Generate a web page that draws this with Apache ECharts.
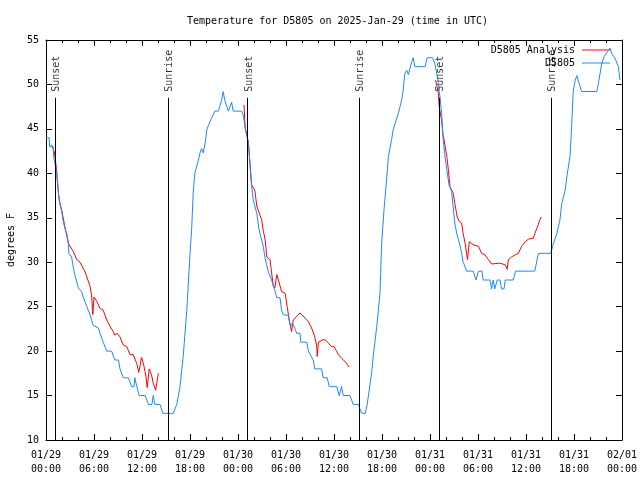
<!DOCTYPE html>
<html>
<head>
<meta charset="utf-8">
<script src="https://cdn.jsdelivr.net/npm/echarts@6/dist/echarts.min.js"></script>
<style>html,body{margin:0;padding:0;background:#fff}#c{width:640px;height:480px}</style>
</head>
<body>
<div id="c"></div>
<script>
// ---- Data (hours since 2025-01-29 00:00 UTC) ----
const xTickLabels = ['01/29\n00:00','01/29\n06:00','01/29\n12:00','01/29\n18:00','01/30\n00:00','01/30\n06:00','01/30\n12:00','01/30\n18:00','01/31\n00:00','01/31\n06:00','01/31\n12:00','01/31\n18:00','02/01\n00:00'];

const obsHours = [0,0.4,0.45,0.9,0.95,1.35,1.55,1.75,1.95,2.15,2.4,2.6,2.8,2.85,3.2,3.4,3.6,4.05,4.45,4.65,5.1,5.5,5.9,6.55,6.75,7.15,7.6,8.2,8.6,9.05,9.25,9.65,10.3,10.7,11.0,11.1,11.35,11.65,12.4,12.8,13.25,13.4,13.6,14.25,14.6,15.9,16.35,16.75,17.15,17.6,18.0,18.2,18.4,18.6,19.05,19.25,19.45,19.65,19.9,20.1,20.3,20.7,21.1,21.55,21.95,22.15,22.35,22.8,23.2,23.4,24.45,24.65,24.9,25.15,25.3,25.5,25.7,25.9,26.35,26.65,26.75,27.15,27.4,27.8,28.2,28.65,28.85,29.25,29.45,29.65,30.3,30.5,30.9,31.35,31.75,31.85,32.6,32.8,33.4,33.6,34.45,34.65,35.15,35.4,36.35,36.65,36.95,37.15,38.0,38.4,39.05,39.45,39.9,40.15,40.4,40.7,40.9,41.35,41.75,41.95,42.25,42.6,42.8,43.2,43.4,43.6,44.05,44.45,44.65,44.85,45.1,45.3,45.7,45.9,46.1,47.4,47.65,48.3,48.6,48.85,49.05,49.15,49.25,49.45,49.65,49.9,50.1,50.4,50.7,50.9,51.1,51.35,51.75,51.95,52.15,52.6,53.4,53.75,54.05,54.5,54.65,55.5,55.7,55.9,56.1,56.4,56.75,56.95,57.25,57.4,58.4,58.7,61.1,61.55,63.1,63.35,63.6,63.85,64.25,64.45,64.65,64.9,65.1,65.5,65.7,65.9,66.1,66.35,66.65,66.95,68.85,69.05,69.45,69.75,70.2,70.5,70.7,71.15,71.55,71.75];
const obsTemps = [44,44,43,43,41.9,40,37.8,36.5,35.8,34.6,33.7,33.2,32.1,31,30.6,29.5,28.6,27.1,26.7,26.1,25,24.1,22.9,22.6,22,21,20,20,19,19,18,17,17,16,16,17,16,15,15,14,14,15,14,14,13,13,14,16,19.4,24.6,31,33.6,37.8,40,41.5,42.3,42.8,42.3,43.4,44.9,45.4,46.2,47,47,48.2,49.2,48.2,47,48,47,47,46.6,45.1,44.9,43.5,41,38.6,37,35.5,33.6,33.4,31.8,30.4,28.9,28,26.7,26,26,24.6,24.1,24,23,23,22,22,21,21,20,19,18,18,17,17,16,16,15,16,15,15,14,14,13,13,14,15.6,17.5,19.4,22.8,26.5,32,35.9,39.6,41.9,43.8,44.9,45,46.8,48.2,49.4,51.2,51.6,51.1,52.5,53,52,52,53,53,52.4,51.2,50.1,49.2,48.6,46.8,43.8,41.7,40.4,38.6,38,36.2,34.4,33.2,31.9,31,30,29,29,28,29,29,28,28,27,28,27,28,28,27,27,28,28,29,29,31,31,31.9,32.1,33.2,34.8,36.5,37.2,38.1,39.6,41.9,45.2,49.2,50.3,51,50.1,49.2,49.2,50.1,52.3,53.1,53.7,54.1,53.5,52.9,52,50.5];

const anaHours = [0.7,1.05,1.35,1.4,1.55,1.65,1.95,2.15,2.4,2.6,2.8,3.0,3.4,3.85,4.25,4.9,5.1,5.5,5.7,5.85,6.0,6.35,6.75,7.15,7.6,8.0,8.4,8.6,8.9,9.25,9.65,10.1,10.5,10.9,11.35,11.6,11.8,11.95,12.25,12.5,12.65,12.9,13.2,13.4,13.7,13.9,14.05,
  19,
  24.75,24.9,25.15,25.3,25.5,25.7,26.1,26.35,26.75,26.95,27.15,27.4,27.6,28.0,28.2,28.4,28.6,28.85,29.05,29.45,29.9,30.15,30.4,30.7,30.9,31.35,31.75,32.0,32.4,32.8,33.2,33.6,33.85,33.9,34.05,34.65,35.0,35.3,35.7,36.0,36.25,36.55,36.95,37.4,37.9,
  43,
  48.7,49.05,49.15,49.45,49.6,49.75,49.95,50.1,50.3,50.5,50.7,50.9,51.1,51.4,51.65,51.95,52.15,52.4,52.6,52.7,52.9,53.2,53.6,54.05,54.45,54.9,55.3,55.7,56.75,56.95,57.4,57.65,57.8,58.2,58.6,59.05,59.45,59.9,60.3,60.9,61.1,61.35,61.75,61.9];
const anaTemps = [43.2,42.4,40.2,39.4,37.8,37,35.9,35,33.8,33,32.1,31.9,31.2,30.3,30,28.9,28.8,27.3,26.3,24.1,26.1,25.6,24.8,24.6,23.5,22.8,22.2,21.8,22,21.6,20.7,20.5,19.6,19.6,18.6,17.6,17.5,19.3,18.3,17.1,15.9,18,17.3,16.4,15.6,15.6,17.5,
  null,
  47.7,45.1,44.9,43.5,41,38.7,38.1,36.3,35.3,34.8,33.6,32.5,30.6,30.3,28.8,27.4,27.1,28.6,28,26.7,26.5,25,23.5,22.2,23.5,23.9,24.3,24.3,23.7,23.3,22.6,21.6,20.5,19.4,21,21.3,21.2,20.9,20.5,20.5,20.1,19.6,19.2,18.8,18.2,
  null,
  50.5,49,47.5,46,44.5,43.8,43.7,41.9,40.4,38.5,38.1,37.8,36.6,35.1,34.6,34.4,33.2,32.1,30.8,30.3,32.3,32.1,31.9,31.8,31,30.8,30.3,29.8,29.9,30.1,29.7,29.2,30.3,30.6,30.8,31,31.8,32.3,32.6,32.7,33.2,33.8,34.8,35.1];

const sunNames = ['Sunset','Sunrise','Sunset','Sunrise','Sunset','Sunrise'];
const sunHours = [1.15,15.3,25.2,39.15,49.15,63.15];

// ---- Chart ----
const FONT = 'DejaVu Sans Mono';
const sunLineTop = 48.5;
const chart = echarts.init(document.getElementById('c'), null, {renderer: 'canvas'});
const obsData = obsHours.map((h, i) => [h, obsTemps[i]]);
const anaData = anaHours.map((h, i) => [h, anaTemps[i] === null ? '-' : anaTemps[i]]);

const axisCommon = {
  axisLine: {show: true, onZero: false, lineStyle: {color: '#000', width: 1}},
  axisTick: {show: true, inside: true, length: 6, lineStyle: {color: '#000'}},
  splitLine: {show: false}
};

chart.setOption({
  animation: false,
  backgroundColor: '#fff',
  textStyle: {fontFamily: FONT},
  title: {
    text: 'Temperature for D5805 on 2025-Jan-29 (time in UTC)',
    left: 182, top: 11,
    textStyle: {fontFamily: FONT, fontSize: 10, fontWeight: 'normal', color: '#000'}
  },
  legend: [
    {data: ['D5805 Analysis'], right: 30, top: 45, padding: 0, align: 'right', icon: 'rect', itemWidth: 28, itemHeight: 1, itemGap: 0,
     textStyle: {fontFamily: FONT, fontSize: 10, color: '#000', padding: [0, 2, 0, 0]}},
    {data: ['D5805'], right: 30, top: 58, padding: 0, align: 'right', icon: 'rect', itemWidth: 28, itemHeight: 1, itemGap: 0,
     textStyle: {fontFamily: FONT, fontSize: 10, color: '#000', padding: [0, 2, 0, 0]}}
  ],
  grid: {left: 46, right: 18, top: 40, bottom: 40, containLabel: false, outerBoundsMode: 'none'},
  xAxis: [
    Object.assign({}, axisCommon, {
      type: 'value', min: 0, max: 72, interval: 6, position: 'bottom',
      minorTick: {show: true, splitNumber: 3, length: 3, lineStyle: {color: '#000'}},
      axisLabel: {fontFamily: FONT, fontSize: 10, color: '#000', margin: 8, lineHeight: 14,
        formatter: v => xTickLabels[Math.round(v / 6)]}
    }),
    Object.assign({}, axisCommon, {
      type: 'value', min: 0, max: 72, interval: 6, position: 'top',
      minorTick: {show: true, splitNumber: 3, length: 3, lineStyle: {color: '#000'}},
      axisLabel: {show: false}
    })
  ],
  yAxis: [
    Object.assign({}, axisCommon, {
      type: 'value', min: 10, max: 55, interval: 5, position: 'left',
      name: 'degrees F', nameLocation: 'middle', nameGap: 30, nameRotate: 90,
      nameTextStyle: {fontFamily: FONT, fontSize: 10, color: '#000'},
      axisLabel: {fontFamily: FONT, fontSize: 10, color: '#000', margin: 7}
    }),
    Object.assign({}, axisCommon, {
      type: 'value', min: 10, max: 55, interval: 5, position: 'right',
      axisLabel: {show: false}
    })
  ],
  series: [
    {
      name: 'sun', type: 'scatter', symbolSize: 0, silent: true,
      data: sunHours.map((h, i) => ({value: [h, sunLineTop], name: sunNames[i]})),
      label: {show: true, formatter: '{b}', position: 'top', distance: 6, rotate: 90,
        align: 'left', verticalAlign: 'middle', offset: [0, 1.5],
        fontFamily: FONT, fontSize: 10, color: '#000'},
      markLine: {
        silent: true, symbol: ['none', 'none'], animation: false,
        label: {show: false},
        lineStyle: {color: '#000', width: 1, type: 'solid'},
        data: sunHours.map(h => [{coord: [h, 10]}, {coord: [h, sunLineTop]}])
      }
    },
    {
      name: 'D5805 Analysis', type: 'line', data: anaData, showSymbol: false, connectNulls: false,
      color: '#ff0000', lineStyle: {color: '#ff0000', width: 1}, z: 3
    },
    {
      name: 'D5805', type: 'line', data: obsData, showSymbol: false,
      color: '#1e88ff', lineStyle: {color: '#1e88ff', width: 1}, z: 4
    }
  ]
});
</script>
</body>
</html>
